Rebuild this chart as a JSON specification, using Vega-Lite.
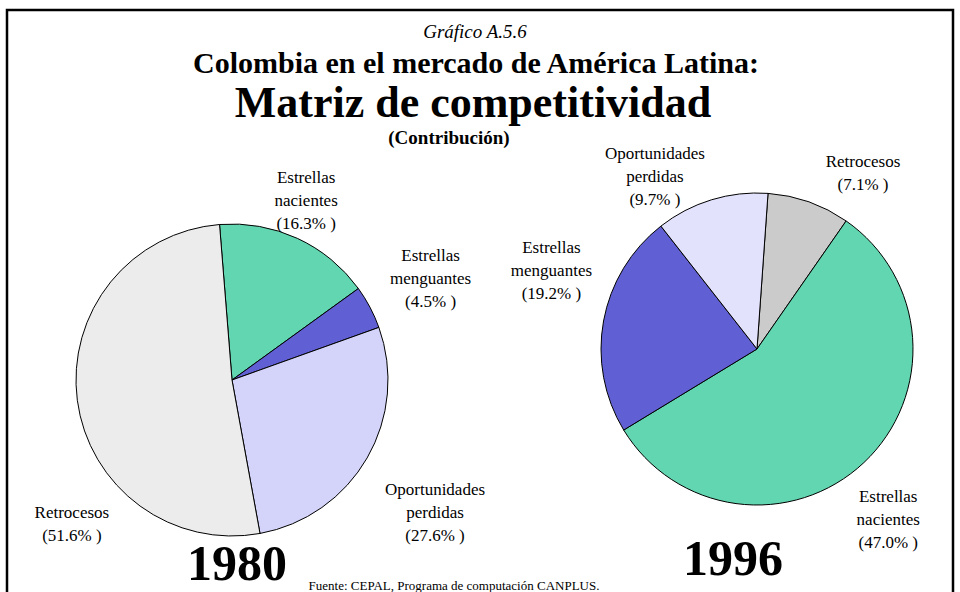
{
  "$schema": "https://vega.github.io/schema/vega-lite/v6.json",
  "width": 946,
  "height": 590,
  "autosize": {"type": "none"},
  "padding": {"left": 7, "top": 10, "right": 7, "bottom": -8},
  "background": "white",
  "config": {
    "view": {"stroke": "black", "strokeWidth": 2.5},
    "font": "Liberation Serif",
    "text": {"font": "Liberation Serif", "color": "black"}
  },
  "title": {
    "text": "Fuente: CEPAL, Programa de computación CANPLUS.",
    "orient": "bottom",
    "anchor": "middle",
    "offset": -20,
    "dx": -26,
    "fontSize": 13,
    "fontWeight": "normal",
    "font": "Liberation Serif",
    "color": "black"
  },
  "datasets": {
    "sectores": [
      {"anio": "1980", "categoria": "Estrellas nacientes", "valor": 16.3, "orden": 1, "etiqueta": "Estrellas\nnacientes\n(16.3% )"},
      {"anio": "1980", "categoria": "Estrellas menguantes", "valor": 4.5, "orden": 2, "etiqueta": "Estrellas\nmenguantes\n(4.5% )"},
      {"anio": "1980", "categoria": "Oportunidades perdidas", "valor": 27.6, "orden": 3, "etiqueta": "Oportunidades\nperdidas\n(27.6% )"},
      {"anio": "1980", "categoria": "Retrocesos", "valor": 51.6, "orden": 4, "etiqueta": "Retrocesos\n(51.6% )"},
      {"anio": "1996", "categoria": "Retrocesos", "valor": 7.1, "orden": 1, "etiqueta": "Retrocesos\n(7.1% )"},
      {"anio": "1996", "categoria": "Estrellas nacientes", "valor": 47.0, "orden": 2, "etiqueta": "Estrellas\nnacientes\n(47.0% )"},
      {"anio": "1996", "categoria": "Estrellas menguantes", "valor": 19.2, "orden": 3, "etiqueta": "Estrellas\nmenguantes\n(19.2% )"},
      {"anio": "1996", "categoria": "Oportunidades perdidas", "valor": 9.7, "orden": 4, "etiqueta": "Oportunidades\nperdidas\n(9.7% )"}
    ],
    "titulos": [
      {"linea": "Gráfico A.5.6"},
      {"linea": "Colombia en el mercado de América Latina:"},
      {"linea": "Matriz de competitividad"},
      {"linea": "(Contribución)"}
    ]
  },
  "resolve": {"scale": {"y": "independent"}},
  "layer": [
    {
      "data": {"name": "sectores"},
      "encoding": {
        "x": {"field": "anio", "type": "nominal", "axis": null, "scale": {"type": "point", "domain": ["1980", "1996"], "range": [225, 750], "padding": 0}},
        "y": {"field": "anio", "type": "nominal", "axis": null, "scale": {"type": "point", "domain": ["1980", "1996"], "range": [370, 339], "padding": 0}}
      },
      "resolve": {"scale": {"theta": "independent", "color": "independent"}},
      "layer": [
        {
          "transform": [{"filter": {"field": "anio", "equal": "1980"}}],
          "layer": [
            {
              "mark": {"type": "arc", "outerRadius": 156, "stroke": "black", "strokeWidth": 1},
              "encoding": {
                "theta": {"field": "valor", "type": "quantitative", "stack": true, "scale": {"range": [-0.080, 6.2032], "nice": false, "zero": true}},
                "order": {"field": "orden", "type": "quantitative"},
                "color": {"field": "categoria", "type": "nominal", "legend": null,
                  "scale": {"domain": ["Estrellas nacientes", "Estrellas menguantes", "Oportunidades perdidas", "Retrocesos"],
                            "range": ["#62d6b0", "#6060d4", "#d4d4fa", "#ececec"]}}
              }
            },
            {
              "mark": {"type": "text", "radius": 215, "thetaOffset": -0.080, "fontSize": 17, "lineBreak": "\n", "lineHeight": 23, "align": "center", "baseline": "middle"},
              "encoding": {
                "theta": {"field": "valor", "type": "quantitative", "stack": true},
                "order": {"field": "orden", "type": "quantitative"},
                "detail": {"field": "categoria", "type": "nominal"},
                "text": {"condition": {"test": "datum.categoria == 'Estrellas nacientes'", "field": "etiqueta"}, "value": ""}
              }
            },
            {
              "mark": {"type": "text", "radius": 234, "thetaOffset": -0.072, "fontSize": 17, "lineBreak": "\n", "lineHeight": 23, "align": "center", "baseline": "middle"},
              "encoding": {
                "theta": {"field": "valor", "type": "quantitative", "stack": true},
                "order": {"field": "orden", "type": "quantitative"},
                "detail": {"field": "categoria", "type": "nominal"},
                "text": {"condition": {"test": "datum.categoria == 'Estrellas menguantes'", "field": "etiqueta"}, "value": ""}
              }
            },
            {
              "mark": {"type": "text", "radius": 231, "thetaOffset": -0.026, "fontSize": 17, "lineBreak": "\n", "lineHeight": 23, "align": "center", "baseline": "middle"},
              "encoding": {
                "theta": {"field": "valor", "type": "quantitative", "stack": true},
                "order": {"field": "orden", "type": "quantitative"},
                "detail": {"field": "categoria", "type": "nominal"},
                "text": {"condition": {"test": "datum.categoria == 'Oportunidades perdidas'", "field": "etiqueta"}, "value": ""}
              }
            },
            {
              "mark": {"type": "text", "radius": 208, "thetaOffset": -0.562, "fontSize": 17, "lineBreak": "\n", "lineHeight": 23, "align": "center", "baseline": "middle"},
              "encoding": {
                "theta": {"field": "valor", "type": "quantitative", "stack": true},
                "order": {"field": "orden", "type": "quantitative"},
                "detail": {"field": "categoria", "type": "nominal"},
                "text": {"condition": {"test": "datum.categoria == 'Retrocesos'", "field": "etiqueta"}, "value": ""}
              }
            },
            {
              "transform": [{"aggregate": [{"op": "count", "as": "n"}], "groupby": ["anio"]}],
              "mark": {"type": "text", "theta": 3.115, "radius": 185, "fontSize": 50, "fontWeight": "bold", "align": "center", "baseline": "middle"},
              "encoding": {"text": {"field": "anio"}}
            }
          ]
        },
        {
          "transform": [{"filter": {"field": "anio", "equal": "1996"}}],
          "layer": [
            {
              "mark": {"type": "arc", "outerRadius": 156, "stroke": "black", "strokeWidth": 1},
              "encoding": {
                "theta": {"field": "valor", "type": "quantitative", "stack": true, "scale": {"range": [0.0707, 6.3539], "nice": false, "zero": true}},
                "order": {"field": "orden", "type": "quantitative"},
                "color": {"field": "categoria", "type": "nominal", "legend": null,
                  "scale": {"domain": ["Estrellas nacientes", "Estrellas menguantes", "Oportunidades perdidas", "Retrocesos"],
                            "range": ["#62d6b0", "#6060d4", "#e2e2fc", "#cbcbcb"]}}
              }
            },
            {
              "mark": {"type": "text", "radius": 215, "thetaOffset": 0.176, "fontSize": 17, "lineBreak": "\n", "lineHeight": 23, "align": "center", "baseline": "middle"},
              "encoding": {
                "theta": {"field": "valor", "type": "quantitative", "stack": true},
                "order": {"field": "orden", "type": "quantitative"},
                "detail": {"field": "categoria", "type": "nominal"},
                "text": {"condition": {"test": "datum.categoria == 'Retrocesos'", "field": "etiqueta"}, "value": ""}
              }
            },
            {
              "mark": {"type": "text", "radius": 198, "thetaOffset": 0.030, "fontSize": 17, "lineBreak": "\n", "lineHeight": 23, "align": "center", "baseline": "middle"},
              "encoding": {
                "theta": {"field": "valor", "type": "quantitative", "stack": true},
                "order": {"field": "orden", "type": "quantitative"},
                "detail": {"field": "categoria", "type": "nominal"},
                "text": {"condition": {"test": "datum.categoria == 'Estrellas nacientes'", "field": "etiqueta"}, "value": ""}
              }
            },
            {
              "mark": {"type": "text", "radius": 229, "thetaOffset": 0.276, "fontSize": 17, "lineBreak": "\n", "lineHeight": 23, "align": "center", "baseline": "middle"},
              "encoding": {
                "theta": {"field": "valor", "type": "quantitative", "stack": true},
                "order": {"field": "orden", "type": "quantitative"},
                "detail": {"field": "categoria", "type": "nominal"},
                "text": {"condition": {"test": "datum.categoria == 'Estrellas menguantes'", "field": "etiqueta"}, "value": ""}
              }
            },
            {
              "mark": {"type": "text", "radius": 220, "thetaOffset": -0.186, "fontSize": 17, "lineBreak": "\n", "lineHeight": 23, "align": "center", "baseline": "middle"},
              "encoding": {
                "theta": {"field": "valor", "type": "quantitative", "stack": true},
                "order": {"field": "orden", "type": "quantitative"},
                "detail": {"field": "categoria", "type": "nominal"},
                "text": {"condition": {"test": "datum.categoria == 'Oportunidades perdidas'", "field": "etiqueta"}, "value": ""}
              }
            },
            {
              "transform": [{"aggregate": [{"op": "count", "as": "n"}], "groupby": ["anio"]}],
              "mark": {"type": "text", "theta": 3.255, "radius": 212, "fontSize": 50, "fontWeight": "bold", "align": "center", "baseline": "middle"},
              "encoding": {"text": {"field": "anio"}}
            }
          ]
        }
      ]
    },
    {
      "data": {"name": "titulos"},
      "encoding": {
        "y": {"field": "linea", "type": "nominal", "sort": null, "axis": null,
              "scale": {"type": "point", "domain": ["Gráfico A.5.6", "Colombia en el mercado de América Latina:", "Matriz de competitividad", "(Contribución)"], "range": [22, 128], "padding": 0}},
        "text": {"field": "linea"}
      },
      "layer": [
        {"transform": [{"filter": {"field": "linea", "equal": "Gráfico A.5.6"}}],
         "mark": {"type": "text", "fontSize": 19, "fontStyle": "italic", "dx": -5, "align": "center", "baseline": "middle"}},
        {"transform": [{"filter": {"field": "linea", "equal": "Colombia en el mercado de América Latina:"}}],
         "mark": {"type": "text", "fontSize": 30, "fontWeight": "bold", "dx": -4, "dy": -3, "align": "center", "baseline": "middle"}},
        {"transform": [{"filter": {"field": "linea", "equal": "Matriz de competitividad"}}],
         "mark": {"type": "text", "fontSize": 44, "fontWeight": "bold", "dx": -7, "dy": 1, "align": "center", "baseline": "middle"}},
        {"transform": [{"filter": {"field": "linea", "equal": "(Contribución)"}}],
         "mark": {"type": "text", "fontSize": 19, "fontWeight": "bold", "dx": -31, "align": "center", "baseline": "middle"}}
      ]
    }
  ]
}
